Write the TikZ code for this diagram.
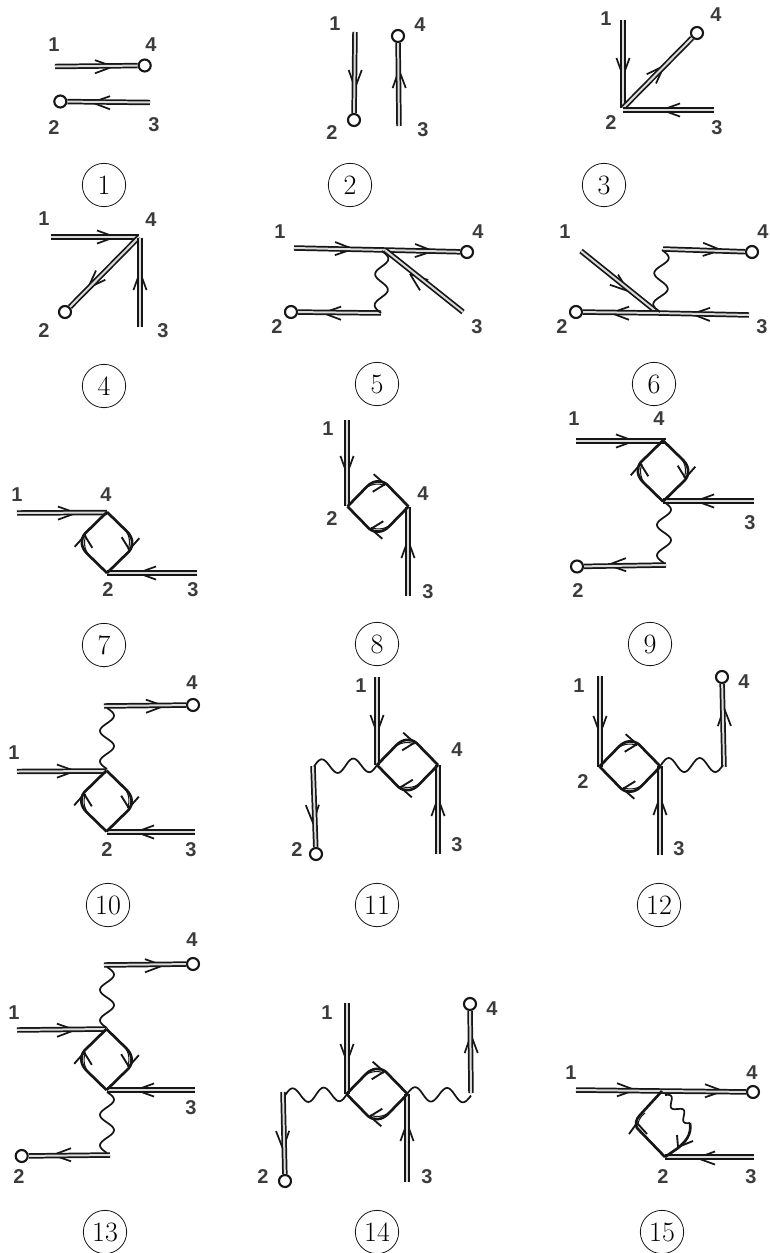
\documentclass[tikz,border=0pt]{standalone}
\usepackage{fontspec}
\usetikzlibrary{calc}
\newfontfamily\labfont{Liberation Sans}
\definecolor{ink}{HTML}{161616}
\definecolor{labgray}{HTML}{3C3C3C}
\definecolor{gapgray}{HTML}{DADADA}
\tikzset{
  dbl/.style={draw=ink,line width=1.3pt,double=gapgray,double distance=1.5pt},
  chev/.style={draw=ink,line width=1.3pt,line join=bevel},
  wav/.style={draw=ink,line width=1.3pt,line join=round},
  floopline/.style={draw=ink,line width=2pt,line join=round},
  floopthin/.style={draw=ink,line width=0.8pt},
  floopchev/.style={draw=ink,line width=1.4pt,line join=bevel},
  extcirc/.style={circle,draw=ink,line width=1.6pt,fill=white,inner sep=0pt,minimum size=9pt},
  lab/.style={text=labgray,inner sep=0pt,font=\labfont\bfseries\fontsize{15}{16}\selectfont},
  circnum/.style={circle,draw=ink,line width=0.6pt,inner sep=0pt,minimum size=32.5pt,font=\fontsize{21}{21}\selectfont}
}
% double line with chevron whose apex is at #3; the chevron lies under the line
\newcommand\dl[3]{%
  \draw[chev] let \p1=($(#2)-(#1)$), \n1={atan2(\y1,\x1)} in
    ($(#3)+(\n1+160:14.4pt)$) -- (#3) -- ($(#3)+(\n1-160:14.4pt)$);
  \draw[dbl] (#1) -- (#2);
}
% wave from #1 to #2, amplitude #3 px, #4 cycles
\newcommand\wv[4]{%
  \draw[wav] let \p1=($(#2)-(#1)$), \n1={atan2(\y1,\x1)} in (#1)
    \foreach \i [evaluate=\i as \t using \i/48, evaluate=\i as \d using #3*0.75*sin(360*(#4*\t))] in {1,...,48}
      { -- ($(#1)!\t!(#2)+(\n1+90:\d pt)$) };
}
% fermion loop: centre #1, rotation #2
\newcommand\floop[2]{%
  \begin{scope}[shift={(#1)},rotate=#2]
    \foreach \r in {0,180}{
      \begin{scope}[rotate=\r]
        \draw[floopline] (0,-30.5) -- (20,-11) .. controls (26,-5) and (27,3) .. (22,9) -- (0,30.5);
        \draw[floopthin] (16,-15) .. controls (22.5,-9) and (24,0) .. (21,7);
        \draw[floopchev] (14.7,-5.3) -- (22.3,7) -- (32.3,-4.3);
      \end{scope}
    }
  \end{scope}
}
\newcommand\lb[3]{\node[lab] (#1) at (#2) {#3};}
\newcommand\ext[2]{\node[extcirc] (#1) at (#2) {};}
\begin{document}
\begin{tikzpicture}[x=0.75pt,y=-0.75pt]
\useasboundingbox (0,0) rectangle (769,1253);

% --- 1
\coordinate (a1) at (55,66.5); \ext{a4}{144.7,65.5}
\ext{a2}{60.3,101.5} \coordinate (a3) at (150,102.5);
\dl{a1}{a4}{113,66.5} \dl{a3}{a2}{92,102.5}
\lb{a1l}{54,45}{1} \lb{a4l}{151,45}{4} \lb{a2l}{54,128}{2} \lb{a3l}{154,125}{3}
\node[circnum] (n1) at (104,185) {1};

% --- 2
\coordinate (b1) at (355,32); \ext{b2}{354,120}
\coordinate (b3) at (399,126); \ext{b4}{398,36}
\dl{b1}{b2}{355,88} \dl{b3}{b4}{399,70}
\lb{b1l}{335,24}{1} \lb{b2l}{332,133}{2} \lb{b4l}{420,25}{4} \lb{b3l}{423,130}{3}
\node[circnum] (n2) at (350,185) {2};

% --- 3
\coordinate (c1) at (623,20); \coordinate (c2) at (623,108);
\ext{c4}{697,33} \coordinate (c3) at (714,110); \coordinate (c2b) at (623,110);
\dl{c1}{c2}{623,76} \dl{c2}{c4}{664,66} \dl{c3}{c2b}{662,110}
\lb{c1l}{606,19}{1} \lb{c4l}{716,15}{4} \lb{c2l}{611,123}{2} \lb{c3l}{717,128}{3}
\node[circnum] (n3) at (604,185) {3};

% --- 4
\coordinate (d1) at (51,237); \coordinate (d4) at (139,237);
\ext{d2}{65,312} \coordinate (d3) at (140,327); \coordinate (d4b) at (140,238);
\dl{d1}{d4}{115,237} \dl{d4}{d2}{88,288} \dl{d3}{d4b}{140,272}
\lb{d1l}{44,219}{1} \lb{d4l}{151,220}{4} \lb{d2l}{44,331}{2} \lb{d3l}{163,331}{3}
\node[circnum] (n4) at (104,386) {4};

% --- 5
\coordinate (e1) at (294,248); \coordinate (ev) at (385,250); \ext{e4}{467,252}
\coordinate (e3) at (463,312); \ext{e2}{291,312} \coordinate (ew) at (381,313);
\coordinate (ew0) at (382,251);
\dl{e1}{ev}{353,249} \dl{ev}{e4}{433,251} \dl{e3}{ev}{410,274} \dl{ew}{e2}{323,313}
\wv{ew0}{ew}{6.5}{2}
\lb{e1l}{280,232}{1} \lb{e4l}{478,232}{4} \lb{e2l}{277,327}{2} \lb{e3l}{477,327}{3}
\node[circnum] (n5) at (377,384) {5};

% --- 6
\coordinate (f1) at (581,251); \coordinate (fv) at (658,313); \coordinate (fu) at (663,249);
\ext{f4}{752,252} \ext{f2}{576,312} \coordinate (f3) at (749,315);
\coordinate (fw0) at (662,250); \coordinate (fw1) at (660,312);
\dl{f1}{fv}{628,291} \dl{fu}{f4}{721,250} \dl{fv}{f2}{611,313} \dl{f3}{fv}{692,314}
\wv{fw0}{fw1}{7}{2}
\lb{f1l}{565,232}{1} \lb{f4l}{763,232}{4} \lb{f2l}{562,327}{2} \lb{f3l}{762,327}{3}
\node[circnum] (n6) at (654,384) {6};

% --- 7
\coordinate (g1) at (17,513); \coordinate (gt) at (107,512.5);
\coordinate (gb) at (107,573); \coordinate (g3) at (197,573);
\dl{g1}{gt}{76,513} \dl{g3}{gb}{138,573}
\floop{107,542.5}{0}
\lb{g1l}{17,495}{1} \lb{g4l}{106,495}{4} \lb{g2l}{108,590}{2} \lb{g3l}{193,590}{3}
\node[circnum] (n7) at (104,645) {7};

% --- 8
\coordinate (h1) at (347,420); \coordinate (hl) at (347,506);
\coordinate (h3) at (408,596); \coordinate (hr) at (408,507);
\dl{h1}{hl}{347,474} \dl{h3}{hr}{408,540}
\floop{378,506.5}{-90}
\lb{h1l}{328,429}{1} \lb{h2l}{332,519}{2} \lb{h4l}{423,494}{4} \lb{h3l}{428,592}{3}
\node[circnum] (n8) at (377,644) {8};

% --- 9
\coordinate (i1) at (576,441); \coordinate (it) at (666,441);
\coordinate (i3) at (754,501); \coordinate (ib) at (663,501);
\coordinate (iw0) at (664,502); \coordinate (iw1) at (664,563);
\coordinate (iu) at (666,565); \ext{i2}{577,566.5}
\dl{i1}{it}{634,441} \dl{i3}{ib}{696,501} \dl{iu}{i2}{608,565}
\floop{663,471}{0}
\wv{iw0}{iw1}{7}{2}
\lb{i1l}{574,419}{1} \lb{i4l}{659,419}{4} \lb{i3l}{750,523}{3} \lb{i2l}{578,591}{2}
\node[circnum] (n9) at (650,644) {9};

% --- 10
\coordinate (j0) at (104,706); \ext{j4}{193,705}
\coordinate (j1) at (17,771.5); \coordinate (jt) at (106,771);
\coordinate (j3) at (195,832); \coordinate (jb) at (107,832);
\coordinate (jw0) at (107,708); \coordinate (jw1) at (107,769);
\dl{j0}{j4}{164,706} \dl{j1}{jt}{75,771} \dl{j3}{jb}{136,832}
\floop{106.5,801}{0}
\wv{jw0}{jw1}{7}{2}
\lb{j4l}{192,683}{4} \lb{j1l}{14,753}{1} \lb{j2l}{107,850}{2} \lb{j3l}{191,850}{3}
\node[circnum] (n10) at (108,905) {10};

% --- 11
\coordinate (k1) at (377,677); \coordinate (kl) at (377,765);
\coordinate (k3) at (438,854); \coordinate (kr) at (438,765);
\coordinate (ku) at (313,766); \ext{k2}{316,854}
\coordinate (kw1) at (314,766.5);
\dl{k1}{kl}{377,733} \dl{k3}{kr}{438,798} \dl{ku}{k2}{313,823}
\floop{407.5,765}{-90}
\wv{kl}{kw1}{7}{2}
\lb{k1l}{361,686}{1} \lb{k4l}{457,750}{4} \lb{k2l}{297,850}{2} \lb{k3l}{457,845}{3}
\node[circnum] (n11) at (377,905) {11};

% --- 12
\coordinate (l1) at (600,676); \coordinate (ll) at (600,767);
\coordinate (l3) at (660,855); \coordinate (lr) at (660,766);
\coordinate (lu) at (724,767); \ext{l4}{722,677}
\coordinate (lw0) at (661,765); \coordinate (lw1) at (723,765);
\dl{l1}{ll}{600,734} \dl{l3}{lr}{660,797} \dl{lu}{l4}{724,708}
\floop{630,766.5}{-90}
\wv{lw0}{lw1}{7}{2}
\lb{l1l}{579,686}{1} \lb{l2l}{583,782}{2} \lb{l3l}{679,849}{3} \lb{l4l}{744,682}{4}
\node[circnum] (n12) at (659,905) {12};

% --- 13
\coordinate (m0) at (104,965); \ext{m4}{193,964}
\coordinate (m1) at (17,1030); \coordinate (mt) at (106,1029);
\coordinate (m3) at (195,1090); \coordinate (mb) at (107,1090);
\coordinate (mu) at (110,1155); \ext{m2}{21.7,1156}
\coordinate (mw0) at (107,967); \coordinate (mw1) at (107,1028);
\coordinate (mw2) at (107,1092); \coordinate (mw3) at (107,1153);
\dl{m0}{m4}{163,965.5} \dl{m1}{mt}{75,1030} \dl{m3}{mb}{136,1090} \dl{mu}{m2}{53,1155}
\floop{106.5,1059.5}{0}
\wv{mw0}{mw1}{7}{2} \wv{mw2}{mw3}{7}{2}
\lb{m4l}{192,940}{4} \lb{m1l}{14,1013}{1} \lb{m3l}{191,1108}{3} \lb{m2l}{19,1177}{2}
\node[circnum] (n13) at (105,1232) {13};

% --- 14
\coordinate (o1) at (347,1003); \coordinate (ol) at (347,1094);
\coordinate (o3) at (407,1182); \coordinate (or) at (407,1094);
\coordinate (ou) at (283,1092); \ext{o2}{285,1181}
\coordinate (ov) at (471,1093); \ext{o4}{470,1004}
\coordinate (ow1) at (285,1095.5); \coordinate (ow2) at (471,1095.5);
\dl{o1}{ol}{347,1062} \dl{o3}{or}{407,1123} \dl{ou}{o2}{283,1149} \dl{ov}{o4}{471,1035}
\floop{377,1094}{-90}
\wv{ol}{ow1}{7}{2} \wv{or}{ow2}{7}{2}
\lb{o1l}{327,1013}{1} \lb{o2l}{263,1177}{2} \lb{o3l}{427,1177}{3} \lb{o4l}{492,1009}{4}
\node[circnum] (n14) at (377,1232) {14};

% --- 15
\coordinate (p1) at (576,1090); \coordinate (pt) at (662,1091); \ext{p4}{753,1092}
\coordinate (p3) at (754,1157); \coordinate (pb) at (665,1157);
\coordinate (pw0) at (665,1095); \coordinate (pw1) at (690,1123);
\dl{p1}{pt}{635,1090} \dl{pt}{p4}{723,1091} \dl{p3}{pb}{697,1158}
\draw[floopline] (pt) -- (640,1115) .. controls (636,1119) and (635,1124) .. (637,1128) -- (pb);
\draw[floopthin] (645,1113) .. controls (639,1118) and (638,1122) .. (638,1125);
\draw[floopchev] (629,1134) -- (637,1123) -- (647,1134);
\draw[floopline] (pw1) .. controls (692,1135) and (685,1142) .. (678,1148) -- (pb);
\draw[floopchev] (677,1135) -- (678,1147) -- (693,1141);
\wv{pw0}{pw1}{4}{2}
\lb{p1l}{571,1073}{1} \lb{p4l}{752,1073}{4} \lb{p2l}{663,1177}{2} \lb{p3l}{751,1177}{3}
\node[circnum] (n15) at (662,1232) {15};
\end{tikzpicture}
\end{document}
